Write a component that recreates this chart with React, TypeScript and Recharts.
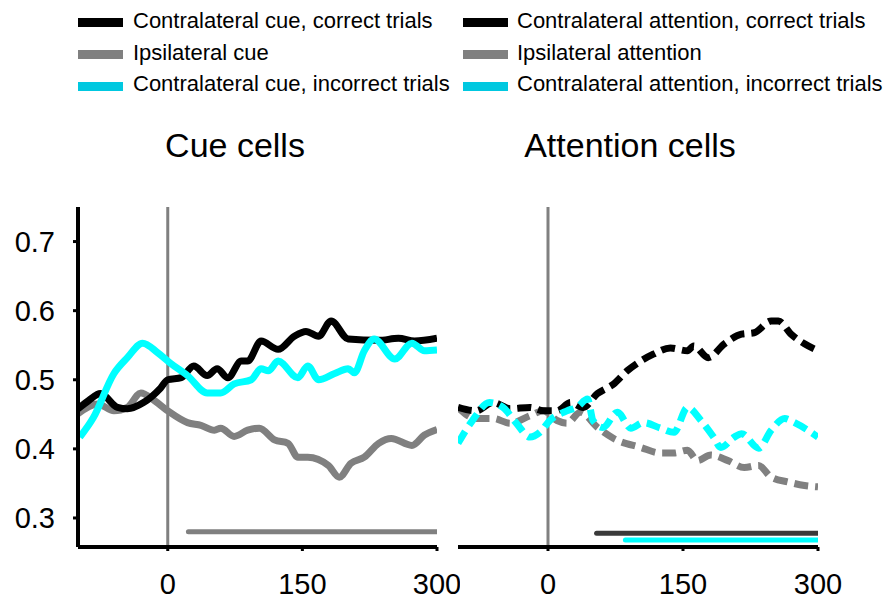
import React from 'react';
import { LineChart, Line, XAxis, YAxis, ReferenceLine } from 'recharts';

// time (ms) / value pairs
const cueCorrect: [number, number][] = [
  [-100, 0.458], [-88, 0.47], [-75, 0.48], [-56, 0.46], [-45, 0.458], [-27, 0.467], [-8, 0.488],
  [0, 0.5], [15, 0.503], [29, 0.52], [44, 0.506], [55, 0.516], [67, 0.503], [82, 0.527], [89, 0.527],
  [104, 0.556], [123, 0.544], [141, 0.563], [154, 0.57], [168, 0.563], [182, 0.585], [201, 0.559],
  [235, 0.557], [257, 0.56], [275, 0.556], [300, 0.56],
];
const cueIncorrect: [number, number][] = [
  [-98, 0.417], [-83, 0.445], [-60, 0.509], [-45, 0.532], [-28, 0.553], [-11, 0.539], [3, 0.524],
  [22, 0.506], [44, 0.481], [59, 0.481], [74, 0.494], [93, 0.5], [104, 0.516], [112, 0.513],
  [123, 0.527], [145, 0.503], [156, 0.52], [168, 0.5], [186, 0.509], [201, 0.516], [208, 0.51],
  [219, 0.542], [230, 0.559], [253, 0.53], [272, 0.553], [286, 0.542], [300, 0.543],
];
const cueIpsi: [number, number][] = [
  [-100, 0.451], [-78, 0.465], [-60, 0.455], [-45, 0.46], [-30, 0.481], [-15, 0.47], [0, 0.455],
  [22, 0.438], [37, 0.434], [52, 0.427], [59, 0.43], [74, 0.418], [89, 0.427], [102, 0.43],
  [119, 0.413], [134, 0.408], [145, 0.388], [156, 0.388], [179, 0.376], [191, 0.359], [204, 0.379],
  [219, 0.388], [235, 0.408], [249, 0.415], [272, 0.405], [286, 0.42], [300, 0.428],
];
const attCorrect: [number, number][] = [
  [-100, 0.46], [-80, 0.455], [-61, 0.467], [-42, 0.458], [-20, 0.46], [-5, 0.455], [10, 0.455],
  [25, 0.467], [39, 0.46], [55, 0.48], [73, 0.494], [88, 0.513], [103, 0.527], [117, 0.537],
  [136, 0.546], [155, 0.542], [162, 0.549], [178, 0.532], [196, 0.552], [215, 0.566], [229, 0.568],
  [248, 0.585], [256, 0.585], [270, 0.566], [285, 0.552], [300, 0.542],
];
const attIpsi: [number, number][] = [
  [-100, 0.46], [-80, 0.444], [-61, 0.444], [-42, 0.437], [-20, 0.448], [-5, 0.455], [10, 0.441],
  [21, 0.437], [36, 0.453], [55, 0.431], [73, 0.415], [103, 0.402], [125, 0.394], [140, 0.394],
  [155, 0.398], [166, 0.383], [181, 0.391], [200, 0.383], [218, 0.373], [234, 0.376], [248, 0.359],
  [267, 0.352], [285, 0.347], [300, 0.345],
];
const attIncorrect: [number, number][] = [
  [-100, 0.408], [-84, 0.441], [-65, 0.467], [-50, 0.46], [-35, 0.437], [-20, 0.417], [-9, 0.424],
  [2, 0.441], [21, 0.455], [32, 0.46], [44, 0.472], [50, 0.441], [61, 0.431], [77, 0.453],
  [92, 0.43], [106, 0.438], [125, 0.43], [140, 0.424], [155, 0.46], [170, 0.441], [184, 0.417],
  [192, 0.402], [207, 0.417], [215, 0.422], [234, 0.401], [248, 0.427], [263, 0.444], [274, 0.438],
  [300, 0.417],
];

// significance bars
const cueSig: [number, number][] = [[23, 0.28], [300, 0.28]];
const attCorrectSig: [number, number][] = [[54, 0.278], [300, 0.278]];
const attIncorrectSig: [number, number][] = [[86, 0.268], [300, 0.268]];

const xTicks = [0, 150, 300];
const yTicks = [0.3, 0.4, 0.5, 0.6, 0.7];
const xDomain = [-100, 300];
const yDomain = [0.258, 0.75];

const cueLabels = ['Contralateral cue, correct trials', 'Ipsilateral cue', 'Contralateral cue, incorrect trials'];
const attLabels = ['Contralateral attention, correct trials', 'Ipsilateral attention', 'Contralateral attention, incorrect trials'];
const legendColors = ['#000000', '#808080', '#00c8e0'];

const FONT = '"Liberation Sans", Arial, sans-serif';
const BLACK = '#000000';
const GRAY = '#808080';
const CYAN = '#00ffff';

const pts = (pairs: [number, number][]) => pairs.map(([t, v]) => ({ t, v }));

const tickStyle = { fill: '#000', fontSize: 29, fontFamily: FONT };

function series(pairs: [number, number][], color: string, dashed: boolean, width = 7, curve = true) {
  return (
    <Line
      data={pts(pairs)}
      dataKey="v"
      type={curve ? 'monotone' : 'linear'}
      stroke={color}
      strokeWidth={width}
      strokeDasharray={dashed ? '14 7' : undefined}
      strokeLinecap={curve ? 'butt' : 'round'}
      strokeLinejoin="round"
      dot={false}
      activeDot={false}
      isAnimationActive={false}
    />
  );
}

function Panel({ left, width, margin, showY, children }: any) {
  return (
    <div style={{ position: 'absolute', left, top: 0 }}>
      <LineChart width={width} height={604} margin={margin}>
        <XAxis
          dataKey="t"
          type="number"
          domain={xDomain}
          ticks={xTicks}
          interval={0}
          height={57}
          tick={tickStyle}
          tickSize={4}
          tickMargin={22}
          axisLine={{ stroke: BLACK, strokeWidth: 4 }}
          tickLine={{ stroke: BLACK, strokeWidth: 3 }}
          allowDataOverflow
        />
        <YAxis
          type="number"
          domain={yDomain}
          ticks={yTicks}
          interval={0}
          width={78}
          hide={!showY}
          tick={tickStyle}
          tickSize={5}
          tickMargin={18}
          tickFormatter={(v: number) => v.toFixed(1)}
          axisLine={{ stroke: BLACK, strokeWidth: 4 }}
          tickLine={{ stroke: BLACK, strokeWidth: 3 }}
          allowDataOverflow
        />
        <ReferenceLine x={0} stroke={GRAY} strokeWidth={3} />
        {children}
      </LineChart>
    </div>
  );
}

function LegendColumn({ labels, swatchX, textX }: { labels: string[]; swatchX: number; textX: number }) {
  return (
    <>
      {labels.map((label, i) => (
        <React.Fragment key={label}>
          <div
            style={{
              position: 'absolute', left: swatchX, top: 18 + i * 32, width: 45, height: 9,
              background: legendColors[i],
            }}
          />
          <div
            style={{
              position: 'absolute', left: textX, top: 10 + i * 31.7, fontSize: 22, lineHeight: '22px',
              fontFamily: FONT, color: '#000', whiteSpace: 'nowrap',
            }}
          >
            {label}
          </div>
        </React.Fragment>
      ))}
    </>
  );
}

export default function App() {
  const titleStyle: React.CSSProperties = {
    position: 'absolute', top: 128, fontSize: 34, lineHeight: '34px', fontFamily: FONT,
    color: '#000', whiteSpace: 'nowrap', transform: 'translateX(-50%)',
  };
  return (
    <div style={{ position: 'absolute', left: 0, top: 0, width: 885, height: 604, background: '#fff', overflow: 'hidden' }}>
      <LegendColumn labels={cueLabels} swatchX={78} textX={133} />
      <LegendColumn labels={attLabels} swatchX={463} textX={517} />
      <div style={{ ...titleStyle, left: 235 }}>Cue cells</div>
      <div style={{ ...titleStyle, left: 630 }}>Attention cells</div>

      <Panel left={0} width={460} margin={{ top: 207, right: 23, bottom: 0, left: 0 }} showY>
        {series(cueIpsi, GRAY, false)}
        {series(cueCorrect, BLACK, false)}
        {series(cueIncorrect, CYAN, false)}
        {series(cueSig, GRAY, false, 5, false)}
      </Panel>

      <Panel left={440} width={445} margin={{ top: 207, right: 67, bottom: 0, left: 18 }} showY={false}>
        {series(attIpsi, GRAY, true)}
        {series(attCorrect, BLACK, true)}
        {series(attIncorrect, CYAN, true)}
        {series(attCorrectSig, '#3a3a3a', false, 5, false)}
        {series(attIncorrectSig, CYAN, false, 5, false)}
      </Panel>
    </div>
  );
}
